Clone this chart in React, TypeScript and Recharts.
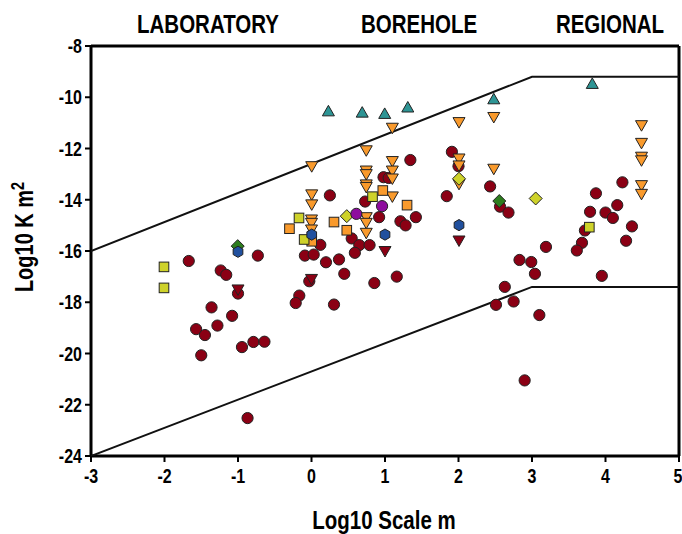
import React from 'react';
import { ReferenceLine, Scatter, ScatterChart, XAxis, YAxis } from 'recharts';

type Pt = [number, number];

// envelopes (Log10 scale, Log10 K)
const upperEnvelope: Pt[] = [[-3, -16], [3, -9.2], [5, -9.2]];
const lowerEnvelope: Pt[] = [[-3, -24], [3, -17.4], [5, -17.4]];

const redCircles: Pt[] = [
  [-1.67, -16.39], [-1.235, -16.76], [-1.16, -16.93], [-0.73, -16.18], [-1.0, -17.66],
  [-1.36, -18.2], [-1.08, -18.53], [-1.57, -19.05], [-1.45, -19.28], [-1.28, -18.91],
  [-0.946, -19.75], [-0.79, -19.55], [-0.64, -19.54], [-1.5, -20.07], [-0.87, -22.52],
  [1.345, -12.45], [1.91, -12.13], [2.0, -12.69], [0.98, -13.12], [1.05, -13.15],
  [0.25, -13.83], [0.73, -14.07], [1.84, -13.86], [0.92, -14.68], [1.21, -14.84],
  [1.28, -15.0], [1.42, -14.68], [0.12, -15.76], [-0.09, -16.18], [0.03, -16.14],
  [0.547, -15.51], [0.65, -15.77], [0.79, -15.77], [0.59, -16.07], [0.197, -16.44],
  [0.374, -16.33], [0.446, -16.89], [-0.03, -17.18], [0.855, -17.25], [1.16, -17.0],
  [-0.166, -17.74], [-0.215, -18.03], [0.306, -18.09],
  [2.43, -13.48], [2.565, -14.27], [2.68, -14.5], [3.87, -13.75], [4.23, -13.32],
  [4.16, -14.21], [3.79, -14.47], [4.0, -14.5], [4.1, -14.71], [4.36, -15.04],
  [4.28, -15.6], [3.72, -15.2], [3.68, -15.68], [3.61, -15.98], [3.19, -15.84],
  [2.83, -16.35], [2.99, -16.43], [3.04, -16.89], [3.95, -16.97], [2.63, -17.4],
  [2.51, -18.1], [2.75, -17.97], [3.1, -18.5], [2.9, -21.05],
];

const orangeDownTriangles: Pt[] = [
  [1.1, -11.19], [2.007, -10.97], [0.745, -12.07], [0.003, -12.69], [1.1, -12.49],
  [1.1, -12.86], [0.745, -12.86], [0.745, -13.0], [1.1, -13.17], [0.745, -13.4],
  [0.745, -13.5], [0.003, -13.79], [0.003, -14.18], [1.1, -13.87], [2.007, -12.39],
  [2.007, -12.66], [2.007, -13.38], [0.0, -14.77], [0.0, -14.9], [0.0, -15.16],
  [0.745, -14.68], [0.745, -14.9], [0.745, -15.29], [2.48, -10.77], [2.48, -12.79],
  [4.49, -11.09], [4.49, -11.78], [4.49, -12.32], [4.49, -12.46], [4.49, -13.43],
  [4.49, -13.77],
];

const orangeSquares: Pt[] = [
  [0.97, -13.64], [1.3, -14.21], [0.306, -14.87], [-0.3, -15.13], [0.003, -15.62], [0.48, -15.19],
];

const yellowSquares: Pt[] = [
  [0.83, -13.88], [-0.17, -14.71], [-0.1, -15.55], [-2.007, -16.62], [-2.007, -17.44], [3.78, -15.07],
];

const blueHexagons: Pt[] = [[-1.0, -16.03], [0.003, -15.36], [1.0, -15.36], [2.007, -14.99]];
const greenDiamonds: Pt[] = [[-1.004, -15.81], [2.555, -14.05]];
const yellowDiamonds: Pt[] = [[2.007, -13.18], [0.48, -14.64], [3.05, -13.95]];
const purpleCircles: Pt[] = [[0.96, -14.25], [0.61, -14.55]];
const redDownTriangles: Pt[] = [[-1.0, -17.5], [2.007, -15.59], [1.0, -16.0], [0.0, -17.09]];
const tealTriangles: Pt[] = [
  [0.23, -10.55], [0.69, -10.6], [0.996, -10.65], [1.31, -10.4], [2.48, -10.08], [3.82, -9.48],
];

const xTicks = [-3, -2, -1, 0, 1, 2, 3, 4, 5];
const yTicks = [-24, -22, -20, -18, -16, -14, -12, -10, -8];
const regionLabels = ['LABORATORY', 'BOREHOLE', 'REGIONAL'];

// no narrow face installed, so squeeze Liberation Sans horizontally
const FONT = "'Liberation Sans', Arial, sans-serif";
const SQUEEZE = 0.8;
const EDGE = '#222';

const toData = (pts: Pt[]) => pts.map(([x, y]) => ({ x, y }));

type Kind = 'circle' | 'square' | 'up' | 'down' | 'diamond' | 'hex';

const makeShape = (kind: Kind, fill: string) => (props: any) => {
  const { cx, cy } = props;
  if (cx == null || cy == null) return null;
  const common = { fill, stroke: EDGE, strokeWidth: 1 };
  if (kind === 'circle') return <circle cx={cx} cy={cy} r={5.6} {...common} />;
  if (kind === 'square') return <rect x={cx - 4.8} y={cy - 4.8} width={9.6} height={9.6} {...common} />;
  if (kind === 'up')
    return <path d={`M${cx},${cy - 6} L${cx + 6},${cy + 4.5} L${cx - 6},${cy + 4.5} Z`} {...common} />;
  if (kind === 'down')
    return <path d={`M${cx - 6},${cy - 4.5} L${cx + 6},${cy - 4.5} L${cx},${cy + 6} Z`} {...common} />;
  if (kind === 'diamond')
    return <path d={`M${cx},${cy - 6.5} L${cx + 6.5},${cy} L${cx},${cy + 6.5} L${cx - 6.5},${cy} Z`} {...common} />;
  const r = 5.6;
  const pts = [0, 1, 2, 3, 4, 5]
    .map((i) => {
      const a = (Math.PI / 3) * i + Math.PI / 6;
      return `${cx + r * Math.cos(a)},${cy + r * Math.sin(a)}`;
    })
    .join(' ');
  return <polygon points={pts} {...common} />;
};

const noShape = () => null;

const XTick = (props: any) => {
  const { x, y, payload } = props;
  return (
    <g transform={`translate(${x},${y}) scale(${SQUEEZE},1)`}>
      <text textAnchor="middle" dy="0.71em" fill="#000" fontFamily={FONT} fontWeight={700} fontSize={20}>
        {payload.value}
      </text>
    </g>
  );
};

const YTick = (props: any) => {
  const { x, y, payload } = props;
  return (
    <g transform={`translate(${x},${y}) scale(${SQUEEZE},1)`}>
      <text textAnchor="end" dy="0.355em" fill="#000" fontFamily={FONT} fontWeight={700} fontSize={20}>
        {payload.value}
      </text>
    </g>
  );
};

const YLabel = () => (
  <g transform="translate(33,237) rotate(-90) scale(0.8,1)">
    <text textAnchor="middle" fill="#000" fontFamily={FONT} fontWeight={700} fontSize={25}>
      Log10 K m<tspan dy={-9} fontSize={18}>2</tspan>
    </text>
  </g>
);

const XLabel = () => (
  <g transform="translate(384,529) scale(0.82,1)">
    <text textAnchor="middle" fill="#000" fontFamily={FONT} fontWeight={700} fontSize={25}>
      Log10 Scale m
    </text>
  </g>
);

export default function App() {
  const titleX = [208, 419, 610];
  return (
    <div style={{ position: 'absolute', left: 0, top: 0, width: 682, height: 534, background: '#fff' }}>
      {regionLabels.map((t, i) => (
        <div
          key={t}
          style={{
            position: 'absolute',
            top: 12,
            left: titleX[i] - 100,
            width: 200,
            textAlign: 'center',
            fontFamily: FONT,
            fontWeight: 700,
            fontSize: 25,
            lineHeight: 1,
            color: '#000',
            transform: 'scaleX(0.82)',
          }}
        >
          {t}
        </div>
      ))}
      <ScatterChart width={682} height={534} margin={{ top: 46, right: 3, bottom: 0, left: 0 }}>
        <XAxis
          type="number"
          dataKey="x"
          domain={[-3, 5]}
          ticks={xTicks}
          allowDataOverflow
          height={78}
          tick={<XTick />}
          tickSize={6}
          tickMargin={7}
          tickLine={{ stroke: '#000', strokeWidth: 2 }}
          axisLine={{ stroke: '#000', strokeWidth: 3 }}
          label={XLabel}
        />
        <YAxis
          type="number"
          dataKey="y"
          domain={[-24, -8]}
          ticks={yTicks}
          allowDataOverflow
          width={91}
          tick={<YTick />}
          tickSize={6}
          tickMargin={3}
          tickLine={{ stroke: '#000', strokeWidth: 2 }}
          axisLine={{ stroke: '#000', strokeWidth: 3 }}
          label={YLabel}
        />
        <ReferenceLine y={-8} stroke="#000" strokeWidth={3} />
        <ReferenceLine x={5} stroke="#000" strokeWidth={3} />
        <Scatter data={toData(upperEnvelope)} line={{ stroke: '#111', strokeWidth: 2 }} shape={noShape} isAnimationActive={false} />
        <Scatter data={toData(lowerEnvelope)} line={{ stroke: '#111', strokeWidth: 2 }} shape={noShape} isAnimationActive={false} />
        <Scatter data={toData(redCircles)} shape={makeShape('circle', '#8B0014')} isAnimationActive={false} />
        <Scatter data={toData(orangeDownTriangles)} shape={makeShape('down', '#F99A2C')} isAnimationActive={false} />
        <Scatter data={toData(orangeSquares)} shape={makeShape('square', '#F99A2C')} isAnimationActive={false} />
        <Scatter data={toData(yellowSquares)} shape={makeShape('square', '#CED22A')} isAnimationActive={false} />
        <Scatter data={toData(greenDiamonds)} shape={makeShape('diamond', '#2D7D1E')} isAnimationActive={false} />
        <Scatter data={toData(blueHexagons)} shape={makeShape('hex', '#21509E')} isAnimationActive={false} />
        <Scatter data={toData(yellowDiamonds)} shape={makeShape('diamond', '#CED22A')} isAnimationActive={false} />
        <Scatter data={toData(purpleCircles)} shape={makeShape('circle', '#8E0C9E')} isAnimationActive={false} />
        <Scatter data={toData(redDownTriangles)} shape={makeShape('down', '#8B0014')} isAnimationActive={false} />
        <Scatter data={toData(tealTriangles)} shape={makeShape('up', '#2E9595')} isAnimationActive={false} />
      </ScatterChart>
    </div>
  );
}
